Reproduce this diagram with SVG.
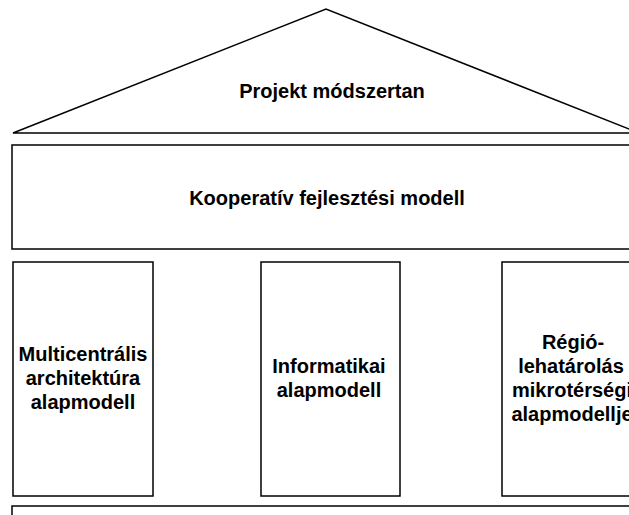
<svg xmlns="http://www.w3.org/2000/svg" width="629" height="515" viewBox="0 0 629 515">
  <style>
    .shape { fill: #ffffff; stroke: #000000; stroke-width: 1.5; }
    .label { font-family: "Liberation Sans", Arial, sans-serif; font-weight: bold; font-size: 20px; fill: #000000; text-anchor: middle; }
  </style>
  <rect x="0" y="0" width="629" height="515" fill="#ffffff"/>

  <!-- roof -->
  <g id="roof">
    <polygon class="shape" points="13,133 326,9 639,133"/>
    <text class="label" x="332" y="98">Projekt módszertan</text>
  </g>

  <!-- beam -->
  <g id="beam">
    <rect class="shape" x="12" y="145" width="630" height="104"/>
    <text class="label" x="327" y="205">Kooperatív fejlesztési modell</text>
  </g>

  <!-- pillars -->
  <g id="pillar-left">
    <rect class="shape" x="13" y="262" width="140" height="234"/>
    <text class="label" x="83" y="361">Multicentrális</text>
    <text class="label" x="83" y="385">architektúra</text>
    <text class="label" x="83" y="409">alapmodell</text>
  </g>
  <g id="pillar-middle">
    <rect class="shape" x="261" y="262" width="139" height="234"/>
    <text class="label" x="329" y="373">Informatikai</text>
    <text class="label" x="329" y="397">alapmodell</text>
  </g>
  <g id="pillar-right">
    <rect class="shape" x="502" y="262" width="140" height="234"/>
    <text class="label" x="573" y="349">Régió-</text>
    <text class="label" x="571" y="373">lehatárolás</text>
    <text class="label" x="572" y="397">mikrotérségi</text>
    <text class="label" x="572" y="421">alapmodellje</text>
  </g>

  <!-- base -->
  <g id="base">
    <rect class="shape" x="12" y="506" width="630" height="20"/>
  </g>
</svg>
